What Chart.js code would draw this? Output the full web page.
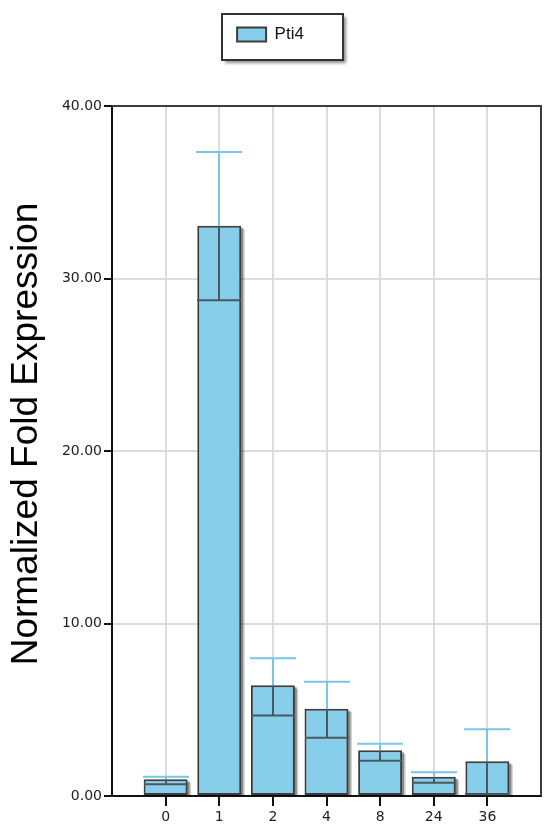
<!DOCTYPE html>
<html><head><meta charset="utf-8">
<script src="https://cdn.jsdelivr.net/npm/chart.js@4/dist/chart.umd.min.js"></script>
<style>html,body{margin:0;padding:0;background:#fff}#wrap{width:544px;height:825px;position:relative}</style>
</head><body><div id="wrap"><canvas id="c" width="544" height="825"></canvas></div>
<script>
const categories = ['0', '1', '2', '4', '8', '24', '36'];
const seriesName = 'Pti4';
const foldExpression = [0.97, 33.06, 6.42, 5.06, 2.65, 1.12, 2.01];
const errorLow = [0.68, 28.74, 4.67, 3.38, 2.05, 0.77, 0.10];
const errorHigh = [1.12, 37.33, 7.98, 6.63, 3.03, 1.37, 3.87];
const yTicks = [0, 10, 20, 30, 40];
const yTitle = 'Normalized Fold Expression';

const labels = [''].concat(categories, ['']);
const dataVals = [null].concat(foldExpression, [null]);
const lastIdx = labels.length - 1;
const FILL = '#87ceeb';
const EDGE = '#3c3c3c';

const framePlugin = {
  id: 'frameAndExtras',
  beforeLayout(chart) {
    const lg = chart.legend;
    if (lg && !lg._patched) {
      const fit = lg.fit;
      lg.fit = function () { fit.call(this); this.height = 106; };
      lg._patched = true;
    }
  },
  beforeDraw(chart) {
    const ctx = chart.ctx;
    const fx = chart.width / 2 - 50, fy = 14, fw = 121, fh = 46;
    ctx.save();
    ctx.shadowColor = 'rgba(0,0,0,0.45)';
    ctx.shadowBlur = 3;
    ctx.shadowOffsetX = 3;
    ctx.shadowOffsetY = 3;
    ctx.fillStyle = '#fff';
    ctx.fillRect(fx, fy, fw, fh);
    ctx.restore();
    ctx.save();
    ctx.lineWidth = 2;
    ctx.strokeStyle = '#333';
    ctx.strokeRect(fx, fy, fw, fh);
    ctx.restore();
  },
  beforeDatasetsDraw(chart) {
    const ctx = chart.ctx, a = chart.chartArea;
    ctx.save();
    ctx.strokeStyle = EDGE;
    ctx.lineWidth = 2;
    ctx.beginPath();
    ctx.moveTo(a.left, a.top);
    ctx.lineTo(a.right, a.top);
    ctx.lineTo(a.right, a.bottom);
    ctx.stroke();
    ctx.restore();
    const meta = chart.getDatasetMeta(0);
    ctx.save();
    ctx.beginPath();
    ctx.rect(a.left, a.top, a.right - a.left, a.bottom - a.top);
    ctx.clip();
    meta.data.forEach((bar, i) => {
      if (dataVals[i] == null) return;
      const p = bar.getProps(['x', 'y', 'base', 'width'], true);
      ctx.fillStyle = 'rgba(0,0,0,0.18)';
      ctx.fillRect(p.x - p.width / 2 + 3.5, p.y + 3.5, p.width, p.base - p.y);
      ctx.fillStyle = 'rgba(0,0,0,0.35)';
      ctx.fillRect(p.x - p.width / 2 + 2, p.y + 2, p.width, p.base - p.y);
    });
    ctx.restore();
  },
  afterDatasetsDraw(chart) {
    const ctx = chart.ctx;
    const meta = chart.getDatasetMeta(0);
    const ys = chart.scales.y;
    categories.forEach((c, i) => {
      const bar = meta.data[i + 1];
      const p = bar.getProps(['x', 'width'], true);
      const x = Math.round(p.x), w = p.width;
      const yv = ys.getPixelForValue(foldExpression[i]);
      const yh = ys.getPixelForValue(errorHigh[i]);
      const yl = ys.getPixelForValue(errorLow[i]);
      ctx.save();
      ctx.lineWidth = 2;
      ctx.strokeStyle = '#4a5960';
      ctx.beginPath();
      ctx.moveTo(x, yl); ctx.lineTo(x, yv);
      ctx.moveTo(x - w / 2, yl); ctx.lineTo(x + w / 2, yl);
      ctx.stroke();
      ctx.strokeStyle = '#78c6e6';
      ctx.beginPath();
      ctx.moveTo(x, yv); ctx.lineTo(x, yh);
      ctx.moveTo(x - w / 2 - 1, yh); ctx.lineTo(x + w / 2 + 1, yh);
      ctx.stroke();
      ctx.restore();
    });
  },
  afterDraw(chart) {
    const ctx = chart.ctx, a = chart.chartArea;
    ctx.save();
    ctx.translate(27, (a.top + a.bottom) / 2 - 17);
    ctx.rotate(-Math.PI / 2);
    ctx.font = '37px "Liberation Sans", Arial, sans-serif';
    ctx.fillStyle = '#000';
    ctx.textAlign = 'center';
    ctx.textBaseline = 'middle';
    ctx.fillText(yTitle, 0, 0);
    ctx.restore();
  }
};

new Chart(document.getElementById('c'), {
  type: 'bar',
  data: {
    labels: labels,
    datasets: [{
      label: seriesName,
      data: dataVals,
      backgroundColor: FILL,
      borderColor: EDGE,
      borderWidth: 2,
      borderSkipped: false,
      categoryPercentage: 1,
      barPercentage: 0.82
    }]
  },
  options: {
    responsive: false,
    animation: false,
    devicePixelRatio: 1,
    layout: { padding: { left: 0, right: 3, top: 0, bottom: 0 } },
    plugins: {
      tooltip: { enabled: false },
      legend: {
        position: 'top',
        labels: {
          boxWidth: 29,
          boxHeight: 14,
          padding: 26,
          color: '#111',
          font: { family: '"Liberation Sans", Arial, sans-serif', size: 17 }
        }
      }
    },
    scales: {
      x: {
        offset: false,
        afterFit(s) { s.height = 29; },
        grid: {
          offset: false,
          color: (c) => (c.index === 0 || c.index === lastIdx) ? 'rgba(0,0,0,0)' : '#dcdcdc',
          tickColor: (c) => (c.index === 0 || c.index === lastIdx) ? 'rgba(0,0,0,0)' : '#111',
          lineWidth: 2,
          tickWidth: 2,
          tickLength: 10
        },
        border: { color: '#111', width: 2 },
        ticks: {
          color: '#222',
          padding: 3,
          maxRotation: 0,
          autoSkip: false,
          font: { family: '"DejaVu Sans", Verdana, sans-serif', size: 14 }
        }
      },
      y: {
        min: 0,
        max: 40,
        afterFit(s) { s.width = 112; },
        afterBuildTicks(s) { s.ticks = yTicks.map(v => ({ value: v })); },
        grid: {
          color: (c) => (c.tick && (c.tick.value === 0 || c.tick.value === 40)) ? 'rgba(0,0,0,0)' : '#dcdcdc',
          tickColor: '#111',
          lineWidth: 2,
          tickWidth: 2,
          tickLength: 8
        },
        border: { color: '#111', width: 2 },
        ticks: {
          color: '#222',
          padding: 2,
          callback: (v) => Number(v).toFixed(2),
          font: { family: '"DejaVu Sans", Verdana, sans-serif', size: 14 }
        }
      }
    }
  },
  plugins: [framePlugin]
});
</script>
</body></html>
